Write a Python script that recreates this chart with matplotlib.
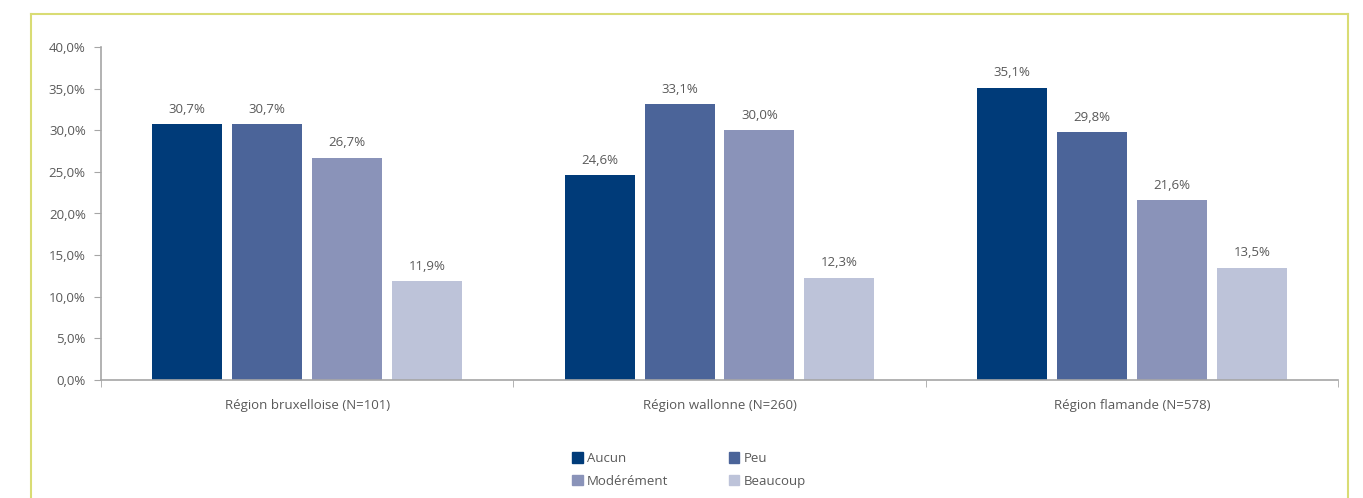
import matplotlib
matplotlib.use("Agg")
import matplotlib.pyplot as plt
import numpy as np
from matplotlib.lines import Line2D
from matplotlib.patches import Patch

regions = ["Région bruxelloise (N=101)", "Région wallonne (N=260)", "Région flamande (N=578)"]
series = ["Aucun", "Peu", "Modérément", "Beaucoup"]
aucun = [30.7, 24.6, 35.1]
peu = [30.7, 33.1, 29.8]
moderement = [26.7, 30.0, 21.6]
beaucoup = [11.9, 12.3, 13.5]
colors = ["#003b79", "#4b6499", "#8a93b9", "#bdc3d9"]

plt.rcParams["font.family"] = ["Open Sans", "DejaVu Sans"]
text_color = "#595959"
axis_color = "#a6a6a6"

fig = plt.figure(figsize=(13.63, 4.98), dpi=100)
ax = fig.add_axes([101 / 1363, 1 - 380 / 498, (1338 - 101) / 1363, (380 - 47) / 498])

x = np.arange(len(regions))
step = 80 / 412.5
width = 70 / 412.5
values = [aucun, peu, moderement, beaucoup]
for i, (name, vals, c) in enumerate(zip(series, values, colors)):
    pos = x + (i - 1.5) * step
    ax.bar(pos, vals, width=width, color=c, label=name)
    for px, v in zip(pos, vals):
        ax.annotate(f"{v:.1f}%".replace(".", ","), (px, v), xytext=(0, 6),
                    textcoords="offset points", ha="center", va="bottom",
                    fontsize=9.5, color=text_color)

ax.set_xlim(-0.5, 2.5)
ax.set_ylim(0, 40)
ax.set_yticks(np.arange(0, 41, 5))
ax.set_yticklabels([f"{v:.1f}%".replace(".", ",") for v in np.arange(0, 41, 5)])
ax.set_xticks(x)
ax.set_xticklabels(regions)
ax.set_xticks([-0.5, 0.5, 1.5, 2.5], minor=True)
ax.tick_params(axis="x", which="major", length=0, pad=14, labelsize=9.5, labelcolor=text_color)
ax.tick_params(axis="x", which="minor", length=5, color=axis_color)
ax.tick_params(axis="y", length=5, color=axis_color, labelsize=9.5, labelcolor=text_color, pad=6)
for s in ["top", "right"]:
    ax.spines[s].set_visible(False)
for s in ["left", "bottom"]:
    ax.spines[s].set_color(axis_color)
    ax.spines[s].set_linewidth(1.2)

# legend filled column-wise, so reorder to get Aucun/Peu on the first row
order = [0, 2, 1, 3]
handles = [Patch(color=colors[i]) for i in order]
labels = [series[i] for i in order]
fig.legend(handles, labels, ncol=2, loc="center", bbox_to_anchor=(689 / 1363, 1 - 470 / 498),
           frameon=False, handlelength=0.8, handleheight=0.8, handletextpad=0.3,
           columnspacing=4.6, labelspacing=0.75, fontsize=9.5, labelcolor=text_color)

border = "#d9dc74"
fx0, fx1, fy0 = 31 / 1363, 1348 / 1363, 1 - 14 / 498
fig.add_artist(Line2D([fx0, fx0], [0, fy0], color=border, lw=1.5))
fig.add_artist(Line2D([fx1, fx1], [0, fy0], color=border, lw=1.5))
fig.add_artist(Line2D([fx0, fx1], [fy0, fy0], color=border, lw=1.5))

fig.savefig("out.png", dpi=100)
plt.close(fig)
